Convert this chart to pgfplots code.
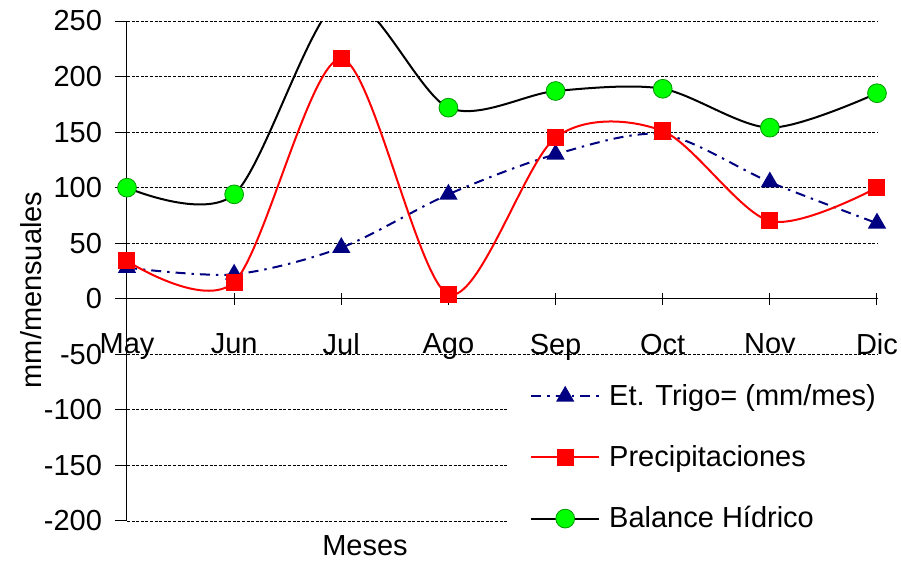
\documentclass[border=0pt]{standalone}
\usepackage{pgfplots}
\pgfplotsset{compat=1.18}
\usepackage{fontspec}
\setmainfont{Liberation Sans}

\definecolor{etnavy}{HTML}{000080}
\definecolor{ppred}{HTML}{FF0000}
\definecolor{bhgreen}{HTML}{00FF00}
\definecolor{bhedge}{HTML}{009900}

\begin{document}
\begin{tikzpicture}[font=\fontsize{14.5}{17}\selectfont]
% page = 901x561 px at 0.5pt per px, origin at plot's lower left
\useasboundingbox (-63.5pt,-20pt) rectangle (387pt,260.5pt);
\begin{axis}[
    width=375pt, height=250pt,
    scale only axis,
    xmin=0, xmax=7,
    ymin=-200, ymax=250,
    axis x line=middle,
    axis y line=left,
    axis line style={-, line width=0.5pt},
    hide obscured x ticks=false,
    hide obscured y ticks=false,
    xtick={0,...,7},
    xticklabels={May,Jun,Jul,Ago,Sep,Oct,Nov,Dic},
    ytick={-200,-150,...,250},
    major tick length=6pt,
    x tick style={black, line width=0.5pt},
    y tick style={black, line width=0.5pt},
    xtick align=center,
    ytick align=outside,
    ymajorgrids,
    major grid style={black, line width=0.4pt, dash pattern=on 1.5pt off 0.8pt},
    /pgf/number format/assume math mode=true,
    xticklabel style={yshift=-11pt},
    yticklabel style={xshift=-3pt},
    every axis y label/.style={at={(rel axis cs:0,0.462)}, xshift=-48pt, rotate=90, anchor=center},
    every axis x label/.style={at={(rel axis cs:0.3173,0)}, yshift=-12.5pt, anchor=center},
    ylabel={mm/mensuales},
    xlabel={Meses},
    legend style={at={(rel axis cs:0.5067,0.314)}, anchor=north west, draw=none, fill=white,
        inner xsep=11.4pt, inner ysep=8pt,
        row sep=14.5pt, font=\fontsize{14.5}{17}\selectfont,
        /tikz/every odd column/.append style={column sep=2.5pt}},
    legend cell align=left,
    legend image code/.code={
        \draw[mark repeat=2, mark phase=2, #1] plot coordinates {(0pt,0pt) (17pt,0pt) (34pt,0pt)};
    },
    every axis plot/.append style={smooth, tension=0.5},
]
\addplot[etnavy, line width=1pt, dash pattern=on 5pt off 3pt on 1.2pt off 3pt,
    mark=triangle*, mark size=4.3pt, mark options={solid, fill=etnavy, draw=etnavy}]
    coordinates {(0,28) (1,22) (2,46) (3,94) (4,130) (5,148) (6,105) (7,68)};
\addplot[ppred, line width=1pt,
    mark=square*, mark size=3.75pt, mark options={solid, fill=ppred, draw=ppred}]
    coordinates {(0,34) (1,15) (2,216) (3,4) (4,145) (5,151) (6,70) (7,100)};
\addplot[black, line width=1pt,
    mark=*, mark size=4.7pt, mark options={solid, fill=bhgreen, draw=bhedge, line width=0.4pt}]
    coordinates {(0,100) (1,94) (2,270) (3,172) (4,187) (5,189) (6,154) (7,185)};
\legend{Et. Trigo= (mm/mes), Precipitaciones, Balance Hídrico}
\end{axis}
\end{tikzpicture}
\end{document}
